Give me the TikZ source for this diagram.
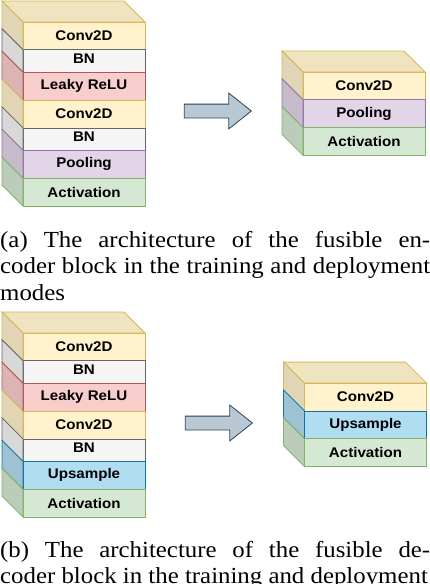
\documentclass[tikz,border=0pt]{standalone}
\usepackage{fontspec}
\setmainfont{Liberation Serif}
\newfontfamily\capfont[FakeStretch=1.08]{Liberation Serif}
\newfontfamily\layerfont[FakeStretch=1.08]{Liberation Sans}
\usetikzlibrary{positioning, shapes.arrows}

\definecolor{convfill}{HTML}{FFF2CC}
\definecolor{convline}{HTML}{D6B656}
\definecolor{bnfill}{HTML}{F5F5F5}
\definecolor{bnline}{HTML}{666666}
\definecolor{relufill}{HTML}{F8CECC}
\definecolor{reluline}{HTML}{B85450}
\definecolor{poolfill}{HTML}{E1D5E7}
\definecolor{poolline}{HTML}{9673A6}
\definecolor{actfill}{HTML}{D5E8D4}
\definecolor{actline}{HTML}{82B366}
\definecolor{upfill}{HTML}{B1DDF0}
\definecolor{upline}{HTML}{10739E}
\definecolor{arrfill}{HTML}{BAC8D3}
\definecolor{arrline}{HTML}{23445D}

\begin{document}
\begin{tikzpicture}[
  x=1pt, y=-1pt,
  every node/.style={font=\layerfont\bfseries\fontsize{14}{16}\selectfont},
  layer/.style={rectangle, draw, line width=0.8pt, minimum width=122pt, minimum height=27.8pt, inner sep=0pt, outer sep=0pt, text centered},
  conv/.style={layer, fill=convfill, draw=convline},
  bn/.style={layer, fill=bnfill, draw=bnline, minimum height=22.5pt, text depth=5pt},
  relu/.style={layer, fill=relufill, draw=reluline},
  pool/.style={layer, fill=poolfill, draw=poolline},
  act/.style={layer, fill=actfill, draw=actline},
  up/.style={layer, fill=upfill, draw=upline},
  blockarrow/.style={single arrow, draw=arrline, fill=arrfill, line width=0.8pt, minimum height=67pt, inner xsep=0pt, inner ysep=6.5pt, single arrow head extend=11pt, single arrow tip angle=77, single arrow head indent=0pt},
  capt/.style={text width=430pt, inner sep=0pt, align=justify, font=\capfont\fontsize{23}{26.5}\selectfont},
]

\path[use as bounding box, clip] (0,0) rectangle (430,584);

%% (a) Encoder: training mode
\node[conv] (a1) at (84,35.9) {Conv2D};
\node[bn,   below=0pt of a1] (a2) {BN};
\node[relu, below=0pt of a2] (a3) {Leaky ReLU};
\node[conv, below=0pt of a3] (a4) {Conv2D};
\node[bn,   below=0pt of a4] (a5) {BN};
\node[pool, below=0pt of a5] (a6) {Pooling};
\node[act,  below=0pt of a6] (a7) {Activation};

%% (a) Encoder: deployment mode
\node[conv] (ra1) at (364,85.9) {Conv2D};
\node[pool, below=0pt of ra1] (ra2) {Pooling};
\node[act,  below=0pt of ra2] (ra3) {Activation};

\node[blockarrow] (arra) at (213.5,111) {};

%% (b) Decoder: training mode
\node[conv] (b1) at (84,346.9) {Conv2D};
\node[bn,   below=0pt of b1] (b2) {BN};
\node[relu, below=0pt of b2] (b3) {Leaky ReLU};
\node[conv, below=0pt of b3] (b4) {Conv2D};
\node[bn,   below=0pt of b4] (b5) {BN};
\node[up,   below=0pt of b5] (b6) {Upsample};
\node[act,  below=0pt of b6] (b7) {Activation};

%% (b) Decoder: deployment mode
\node[conv] (rb1) at (365.5,397) {Conv2D};
\node[up,   below=0pt of rb1] (rb2) {Upsample};
\node[act,  below=0pt of rb2] (rb3) {Activation};

\node[blockarrow] (arrb) at (214.5,423) {};

%% Depth faces
\foreach \n/\ly in {a1/conv, ra1/conv, b1/conv, rb1/conv}
  \filldraw[fill=\ly fill!94!black, draw=\ly line, line width=0.8pt]
    (\n.north west) -- ([shift={(-21,-21)}]\n.north west)
    -- ([shift={(-21,-21)}]\n.north east) -- (\n.north east) -- cycle;
\foreach \n/\ly in {a1/conv, a2/bn, a3/relu, a4/conv, a5/bn, a6/pool, a7/act,
                    ra1/conv, ra2/pool, ra3/act,
                    b1/conv, b2/bn, b3/relu, b4/conv, b5/bn, b6/up, b7/act,
                    rb1/conv, rb2/up, rb3/act}
  \filldraw[fill=\ly fill!88!black, draw=\ly line, line width=0.8pt]
    (\n.north west) -- ([shift={(-21,-21)}]\n.north west)
    -- ([shift={(-21,-21)}]\n.south west) -- (\n.south west) -- cycle;

%% Captions
\node[capt, anchor=base west] (capa) at (0,247.3)
  {(a) The architecture of the fusible en-\linebreak coder block in the training and deployment\linebreak modes};
\node[capt, anchor=base west] (capb) at (0,557.3)
  {(b) The architecture of the fusible de-\linebreak coder block in the training and deployment};

\end{tikzpicture}
\end{document}
